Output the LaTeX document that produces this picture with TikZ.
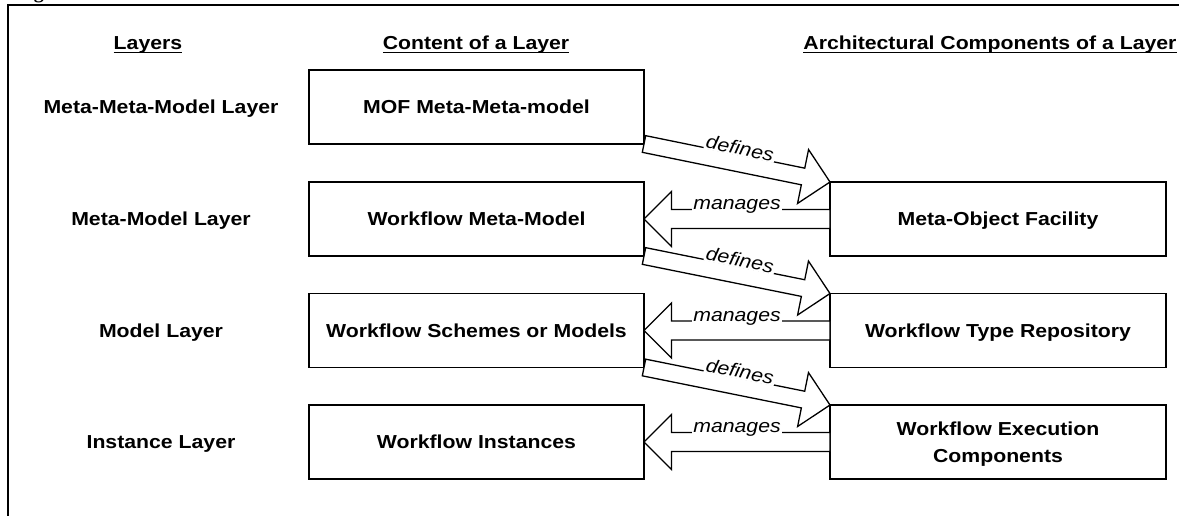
\documentclass[tikz,border=0pt]{standalone}
\usepackage{fontspec}
\setmainfont{Liberation Sans}[FakeStretch=1.13]
\newfontfamily\serifg{Liberation Serif}
\usetikzlibrary{calc}
\newcommand\ulhdr[1]{\sbox0{#1}\rlap{\rule[-3.6pt]{\wd0}{1.5pt}}\usebox0}
\tikzset{
  box/.style={draw, line width=1.3pt, minimum height=74pt, inner sep=0pt, outer sep=0pt,
    font=\bfseries\fontsize{18.8}{27}\selectfont, text depth=0pt, align=center},
  lbox/.style={box, minimum width=335pt},
  rbox/.style={box, minimum width=336pt},
  lay/.style={font=\bfseries\fontsize{18.8}{22}\selectfont, text depth=0pt, inner sep=0pt},
  hdr/.style={font=\bfseries\fontsize{18.8}{22}\selectfont, anchor=base, inner sep=0pt},
  blk/.style={draw, fill=white, line width=1.3pt, line join=miter},
  lbl/.style={font=\itshape\fontsize{18.8}{22}\selectfont, fill=white, inner xsep=1.5pt, inner ysep=1pt, anchor=base},
}
% #1 start, #2 end, #3 label, #4 label-side angle, #5 other-side angle, #6 shaft half width
\newcommand\blkarr[6]{%
  \coordinate (ba) at ($(#2)!27.5pt!(#1)$);
  \draw[blk] ($(#1)!#6!#4:(#2)$) -- ($(ba)!#6!#4:(#2)$) -- ($(ba)!27.5pt!#4:(#2)$) -- (#2)
    -- ($(ba)!27.5pt!#5:(#2)$) -- ($(ba)!#6!#5:(#2)$) -- ($(#1)!#6!#5:(#2)$) -- cycle;
  \path ($(#1)!#6!#4:(#2)$) -- ($(#2)!#6!#5:(#1)$) node[midway, sloped, lbl] {#3};
}
\begin{document}
\begin{tikzpicture}[x=1pt, y=-1pt]
\useasboundingbox (0,0) rectangle (1179,516);
\node[anchor=base, font=\serifg\bfseries\fontsize{20}{24}\selectfont, inner sep=0pt] (gfrag) at (39,-1.5) {g};
\draw[line width=1.6pt] (1179,5) coordinate (fr1) -- (8,5) coordinate (fr2) -- (8,516) coordinate (fr3);

% headers
\node[hdr] (h1) at (148,49.5) {\ulhdr{Layers}};
\node[hdr] (h2) at (476,49.5) {\ulhdr{Content of a Layer}};
\node[hdr] (h3) at (990,49.5) {\ulhdr{Architectural Components of a Layer}};

% layer labels
\node[lay] (y1) at (161,107) {Meta-Meta-Model Layer};
\node[lay] (y2) at (161,219) {Meta-Model Layer};
\node[lay] (y3) at (161,330.5) {Model Layer};
\node[lay] (y4) at (161,442) {Instance Layer};

% content boxes
\node[lbox] (L1) at (476.5,107) {MOF Meta-Meta-model};
\node[lbox] (L2) at (476.5,219) {Workflow Meta-Model};
\node[lbox] (L3) at (476.5,330.5) {Workflow Schemes or Models};
\node[lbox] (L4) at (476.5,442) {Workflow Instances};

% component boxes
\node[rbox] (R2) at (998,219) {Meta-Object Facility};
\node[rbox] (R3) at (998,330.5) {Workflow Type Repository};
\node[rbox] (R4) at (998,442) {Workflow Execution\\Components};

% block arrows
\blkarr{L1.south east}{R2.north west}{defines}{90}{-90}{8.5pt}
\blkarr{L2.south east}{R3.north west}{defines}{90}{-90}{8.5pt}
\blkarr{L3.south east}{R4.north west}{defines}{90}{-90}{8.5pt}
\blkarr{R2.west}{L2.east}{manages}{-90}{90}{9.5pt}
\blkarr{R3.west}{L3.east}{manages}{-90}{90}{9.5pt}
\blkarr{R4.west}{L4.east}{manages}{-90}{90}{9.5pt}
\end{tikzpicture}
\end{document}
